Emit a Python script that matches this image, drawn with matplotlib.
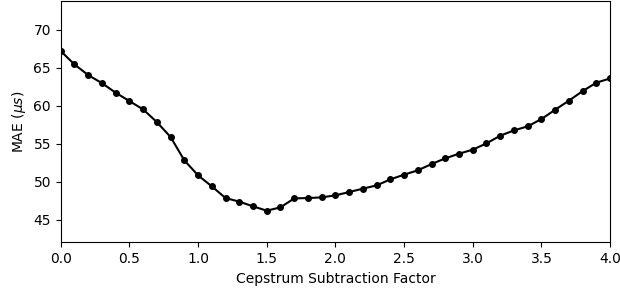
import numpy as np
import matplotlib
matplotlib.use("Agg")
import matplotlib.pyplot as plt

factor = [0.0, 0.1, 0.2, 0.3, 0.4, 0.5, 0.6, 0.7, 0.8, 0.9,
          1.0, 1.1, 1.2, 1.3, 1.4, 1.5, 1.6, 1.7, 1.8, 1.9,
          2.0, 2.1, 2.2, 2.3, 2.4, 2.5, 2.6, 2.7, 2.8, 2.9,
          3.0, 3.1, 3.2, 3.3, 3.4, 3.5, 3.6, 3.7, 3.8, 3.9, 4.0]
mae = [67.19, 65.43, 64.03, 62.97, 61.71, 60.61, 59.51, 57.84, 55.87, 52.80,
       50.83, 49.38, 47.84, 47.37, 46.75, 46.18, 46.62, 47.80, 47.84, 47.93,
       48.20, 48.63, 49.08, 49.51, 50.30, 50.92, 51.49, 52.32, 53.07, 53.68,
       54.21, 55.04, 56.05, 56.75, 57.28, 58.24, 59.47, 60.66, 61.92, 63.03, 63.59]

fig, ax = plt.subplots(figsize=(6.2, 2.96), dpi=100)
fig.subplots_adjust(left=0.098, right=0.984, top=0.997, bottom=0.181)

ax.plot(factor, mae, color='black', marker='o', markersize=4, linewidth=1.5)
ax.set_xlim(0, 4.0)
ax.set_ylim(42, 73.8)
ax.set_yticks([45, 50, 55, 60, 65, 70])
ax.set_xlabel("Cepstrum Subtraction Factor")
ax.set_ylabel(r"MAE ($\mu s$)")

fig.savefig("out.png", dpi=100)
